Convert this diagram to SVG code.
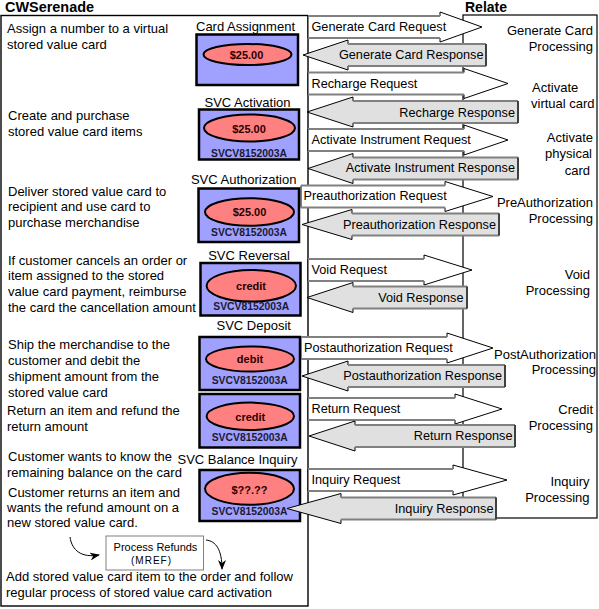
<svg xmlns="http://www.w3.org/2000/svg" width="599" height="609" viewBox="0 0 599 609">
<defs>
<style>
text{font-family:"Liberation Sans",Arial,Helvetica,sans-serif;fill:#000}
.d{font-size:13px}
.h{font-size:14px;font-weight:bold}
.lbl{font-size:13px;text-anchor:middle}
.amt{font-size:11px;font-weight:bold;text-anchor:middle;fill:#2a0000}
.id{font-size:10px;font-weight:bold;text-anchor:middle;fill:#1a1a33}
.card rect{fill:#A0A0FF;stroke:#000;stroke-width:2.5}
.card ellipse{fill:#FF8080;stroke:#000;stroke-width:2}
.req polygon{fill:#fff;stroke:#000;stroke-width:1}
.resp polygon{fill:#E0E0E0;stroke:#000;stroke-width:1}
.edge{stroke:#808080;stroke-width:2;fill:none}
.end{stroke:#404040;stroke-width:2;fill:none}
.at{font-size:12.7px}
.ar{font-size:12.7px;text-anchor:end}
.pr{font-size:13px;text-anchor:end}
.curve{fill:none;stroke:#000;stroke-width:1}
</style>
<marker id="ah" viewBox="0 0 10 8" refX="9" refY="4" markerWidth="10" markerHeight="8" markerUnits="userSpaceOnUse" orient="auto">
<path d="M0,0 L10,4 L0,8 L3,4 z" fill="#000"/>
</marker>
</defs>

<g id="panel-cwserenade">
<rect x="1" y="15.5" width="307" height="590.5" fill="#fff" stroke="#000" stroke-width="1.4"/>
<text class="h" x="5" y="12" textLength="89" lengthAdjust="spacingAndGlyphs">CWSerenade</text>
</g>
<g id="panel-relate">
<rect x="463" y="15" width="134" height="503" fill="#fff" stroke="#000" stroke-width="1.2"/>
<text class="h" x="465" y="12">Relate</text>
<text class="pr" x="593" y="35">Generate Card</text>
<text class="pr" x="593" y="51">Processing</text>
<text class="d" x="532" y="92">Activate</text>
<text class="d" x="531" y="107.5">virtual card</text>
<text class="pr" x="593" y="142">Activate</text>
<text class="pr" x="592" y="158">physical</text>
<text class="pr" x="590" y="175">card</text>
<text class="pr" x="593" y="207">PreAuthorization</text>
<text class="pr" x="593" y="223">Processing</text>
<text class="pr" x="590" y="278.5">Void</text>
<text class="pr" x="590" y="294.5">Processing</text>
<text class="pr" x="596" y="358.5">PostAuthorization</text>
<text class="pr" x="596" y="374">Processing</text>
<text class="pr" x="593" y="413.5">Credit</text>
<text class="pr" x="593" y="429.5">Processing</text>
<text class="pr" x="589.5" y="486">Inquiry</text>
<text class="pr" x="589.5" y="502">Processing</text>
</g>

<g id="descriptions">
<text class="d" x="7" y="33">Assign a number to a virtual</text>
<text class="d" x="7" y="48.5">stored value card</text>
<text class="d" x="8" y="120">Create and purchase</text>
<text class="d" x="8" y="135.5">stored value card items</text>
<text class="d" x="8" y="195.5">Deliver stored value card to</text>
<text class="d" x="8" y="211">recipient and use card to</text>
<text class="d" x="8" y="226.5">purchase merchandise</text>
<text class="d" x="8" y="264.5">If customer cancels an order or</text>
<text class="d" x="8" y="280">item assigned to the stored</text>
<text class="d" x="8" y="296">value card payment, reimburse</text>
<text class="d" x="8" y="311.5">the card the cancellation amount</text>
<text class="d" x="8" y="349">Ship the merchandise to the</text>
<text class="d" x="8" y="365">customer and debit the</text>
<text class="d" x="8" y="381">shipment amount from the</text>
<text class="d" x="8" y="396.5">stored value card</text>
<text class="d" x="7" y="414.5">Return an item and refund the</text>
<text class="d" x="7" y="431">return amount</text>
<text class="d" x="8" y="460.5">Customer wants to know the</text>
<text class="d" x="7" y="476.5">remaining balance on the card</text>
<text class="d" x="8" y="496.5">Customer returns an item and</text>
<text class="d" x="7" y="512">wants the refund amount on a</text>
<text class="d" x="7" y="527">new stored value card.</text>
<text class="d" x="6" y="581">Add stored value card item to the order and follow</text>
<text class="d" x="6" y="597">regular process of stored value card activation</text>
</g>

<g id="card-assignment" class="card">
<text class="lbl" x="245.5" y="31">Card Assignment</text>
<rect x="196.5" y="34.5" width="101.5" height="50.5"/>
<ellipse cx="247.5" cy="54.5" rx="44" ry="10.5"/>
<text class="amt" x="246.5" y="58.5">$25.00</text>
</g>
<g id="svc-activation" class="card">
<text class="lbl" x="247.5" y="107">SVC Activation</text>
<rect x="199" y="109.5" width="100" height="50"/>
<ellipse cx="249.5" cy="128" rx="45.5" ry="13.5"/>
<text class="amt" x="249" y="133">$25.00</text>
<text class="id" x="249" y="156.5" textLength="76" lengthAdjust="spacingAndGlyphs">SVCV8152003A</text>
</g>
<g id="svc-authorization" class="card">
<text class="lbl" x="243.7" y="184">SVC Authorization</text>
<rect x="198.5" y="188.5" width="100.5" height="53.5"/>
<ellipse cx="249.5" cy="212" rx="44.5" ry="13.8"/>
<text class="amt" x="249.5" y="215.5">$25.00</text>
<text class="id" x="249" y="236" textLength="76" lengthAdjust="spacingAndGlyphs">SVCV8152003A</text>
</g>
<g id="svc-reversal" class="card">
<text class="lbl" x="249" y="259.5">SVC Reversal</text>
<rect x="200.5" y="263" width="100" height="52.5"/>
<ellipse cx="251.3" cy="285.8" rx="44.7" ry="15.8"/>
<text class="amt" x="251" y="289.5">credit</text>
<text class="id" x="251.3" y="310" textLength="76" lengthAdjust="spacingAndGlyphs">SVCV8152003A</text>
</g>
<g id="svc-deposit" class="card">
<text class="lbl" x="253.7" y="330">SVC Deposit</text>
<rect x="199.5" y="337" width="100.5" height="53"/>
<ellipse cx="250" cy="359" rx="44" ry="12.5"/>
<text class="amt" x="250" y="363">debit</text>
<text class="id" x="249.7" y="384" textLength="76" lengthAdjust="spacingAndGlyphs">SVCV8152003A</text>
</g>
<g id="svc-return" class="card">
<rect x="199.5" y="394" width="100.5" height="53.5"/>
<ellipse cx="250.3" cy="416.3" rx="43.7" ry="13.7"/>
<text class="amt" x="250.3" y="420.5">credit</text>
<text class="id" x="249.7" y="440.7" textLength="76" lengthAdjust="spacingAndGlyphs">SVCV8152003A</text>
</g>
<g id="svc-balance-inquiry" class="card">
<text class="lbl" x="237.5" y="463.5">SVC Balance Inquiry</text>
<rect x="199.5" y="470" width="100.5" height="51"/>
<ellipse cx="249.5" cy="488.8" rx="44.5" ry="16"/>
<text class="amt" x="249.5" y="494">$??.??</text>
<text class="id" x="249.5" y="515" textLength="76" lengthAdjust="spacingAndGlyphs">SVCV8152003A</text>
</g>

<g id="process-refunds">
<rect x="106" y="536" width="97.5" height="34" fill="#fff" stroke="#808080" stroke-width="1"/>
<text x="155.5" y="551" font-size="11" text-anchor="middle">Process Refunds</text>
<text x="151.5" y="563.5" font-size="10" letter-spacing="1" text-anchor="middle">(MREF)</text>
</g>

<g id="connectors">
<g class="req">
<polygon points="308,16 440,16 440,12 482,27 440,42 440,38 308,38"/>
<path class="edge" d="M308,16H440M308,38H440"/>
<text class="at" x="311.5" y="30.5">Generate Card Request</text>
</g>
<g class="resp">
<polygon points="303,55 348,40 348,44 486,44 486,66 348,66 348,70"/>
<path class="edge" d="M348,44H486M348,66H486"/>
<path class="end" d="M486,44V66"/>
<text class="ar" x="483.5" y="59">Generate Card Response</text>
</g>
<g class="req">
<polygon points="308,72.5 464,72.5 464,68.5 508,83.5 464,98.5 464,94.5 308,94.5"/>
<path class="edge" d="M308,72.5H464M308,94.5H464"/>
<text class="at" x="311.5" y="87.5">Recharge Request</text>
</g>
<g class="resp">
<polygon points="307,112 353,97 353,101 518,101 518,123 353,123 353,127"/>
<path class="edge" d="M353,101H518M353,123H518"/>
<path class="end" d="M518,101V123"/>
<text class="ar" x="515" y="116.5">Recharge Response</text>
</g>
<g class="req">
<polygon points="308,129 464,129 464,125 508,140 464,155 464,151 308,151"/>
<path class="edge" d="M308,129H464M308,151H464"/>
<text class="at" x="311.5" y="143.5">Activate Instrument Request</text>
</g>
<g class="resp">
<polygon points="308,168.5 353,153.5 353,157.5 518,157.5 518,179.5 353,179.5 353,183.5"/>
<path class="edge" d="M353,157.5H518M353,179.5H518"/>
<path class="end" d="M518,157.5V179.5"/>
<text class="ar" x="515" y="172">Activate Instrument Response</text>
</g>
<g class="req">
<polygon points="301,185.5 445,185.5 445,181.5 493,196.5 445,211.5 445,207.5 301,207.5"/>
<path class="edge" d="M301,185.5H445M301,207.5H445"/>
<text class="at" x="303.5" y="200">Preauthorization Request</text>
</g>
<g class="resp">
<polygon points="302,224.5 352,209.5 352,213.5 499,213.5 499,235.5 352,235.5 352,239.5"/>
<path class="edge" d="M352,213.5H499M352,235.5H499"/>
<path class="end" d="M499,213.5V235.5"/>
<text class="ar" x="496" y="228.5">Preauthorization Response</text>
</g>
<g class="req">
<polygon points="308,259 424,259 424,255 472,270 424,285 424,281 308,281"/>
<path class="edge" d="M308,259H424M308,281H424"/>
<text class="at" x="311.5" y="273.5">Void Request</text>
</g>
<g class="resp">
<polygon points="307,297.5 353,282.5 353,286.5 467,286.5 467,308.5 353,308.5 353,312.5"/>
<path class="edge" d="M353,286.5H467M353,308.5H467"/>
<path class="end" d="M467,286.5V308.5"/>
<text class="ar" x="463.5" y="301.5">Void Response</text>
</g>
<g class="req">
<polygon points="301,337 447,337 447,333 493,348 447,363 447,359 301,359"/>
<path class="edge" d="M301,337H447M301,359H447"/>
<text class="at" x="304" y="352">Postauthorization Request</text>
</g>
<g class="resp">
<polygon points="302,376 348,361 348,365 505,365 505,387 348,387 348,391"/>
<path class="edge" d="M348,365H505M348,387H505"/>
<path class="end" d="M505,365V387"/>
<text class="ar" x="502" y="380">Postauthorization Response</text>
</g>
<g class="req">
<polygon points="308,398 455,398 455,394 502,409 455,424 455,420 308,420"/>
<path class="edge" d="M308,398H455M308,420H455"/>
<text class="at" x="311.5" y="412.5">Return Request</text>
</g>
<g class="resp">
<polygon points="309,436 355,421 355,425 515,425 515,447 355,447 355,451"/>
<path class="edge" d="M355,425H515M355,447H515"/>
<path class="end" d="M515,425V447"/>
<text class="ar" x="512.5" y="440">Return Response</text>
</g>
<g class="req">
<polygon points="308,469 453,469 453,465 507,480 453,495 453,491 308,491"/>
<path class="edge" d="M308,469H453M308,491H453"/>
<text class="at" x="311.5" y="484">Inquiry Request</text>
</g>
<g class="resp">
<polygon points="287,508.5 341,493.5 341,497.5 496,497.5 496,519.5 341,519.5 341,523.5"/>
<path class="edge" d="M341,497.5H496M341,519.5H496"/>
<path class="end" d="M496,497.5V519.5"/>
<text class="ar" x="493.5" y="513">Inquiry Response</text>
</g>
<path class="curve" d="M70,537 C72,551 82,558 99,555" marker-end="url(#ah)"/>
<path class="curve" d="M206,540 C216,541 222,550 222,569" marker-end="url(#ah)"/>
</g>
</svg>
